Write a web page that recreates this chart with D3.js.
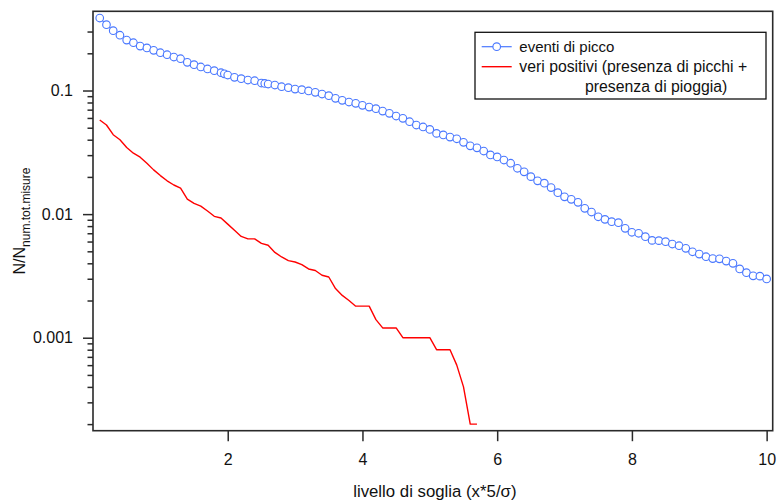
<!DOCTYPE html>
<html>
<head>
<meta charset="utf-8">
<script src="https://cdn.jsdelivr.net/npm/d3@7"></script>
<style>
  html, body { margin: 0; padding: 0; background: #fff; }
  svg { display: block; font-family: "Liberation Sans", Arial, Helvetica, sans-serif; }
</style>
</head>
<body>
<svg id="chart" width="779" height="504"></svg>
<script>
// ---------- DATA ----------
const xTicks = [2, 4, 6, 8, 10];
const yMajorTicks = [0.1, 0.01, 0.001];
const yTickLabels = ["0.1", "0.01", "0.001"];

const seriesNames = ["eventi di picco", "veri positivi (presenza di picchi +", "presenza di pioggia)"];

// eventi di picco (blue circles)
const blueX = [0.1,0.2,0.3,0.4,0.5,0.6,0.7,0.8,0.9,1.0,
  1.1,1.2,1.3,1.4,1.5,1.6,1.7,1.8,1.9,1.95,2.0,
  2.1,2.2,2.3,2.4,2.5,2.55,2.6,2.7,2.8,2.9,3.0,
  3.1,3.2,3.3,3.4,3.5,3.6,3.7,3.8,3.9,4.0,
  4.1,4.2,4.3,4.4,4.5,4.6,4.7,4.8,4.9,5.0,
  5.1,5.2,5.3,5.4,5.5,5.6,5.7,5.8,5.9,6.0,
  6.1,6.2,6.3,6.4,6.5,6.6,6.7,6.8,6.9,7.0,
  7.1,7.2,7.3,7.4,7.5,7.6,7.7,7.8,7.9,8.0,
  8.1,8.2,8.3,8.4,8.5,8.6,8.7,8.8,8.9,9.0,
  9.1,9.2,9.3,9.4,9.5,9.6,9.7,9.8,9.9,10.0];
const blueY = [0.386,0.341,0.305,0.280,0.256,0.2435,0.229,0.221,0.2114,0.2022,
  0.1948,0.1866,0.1808,0.1691,0.1617,0.1550,0.1493,0.1446,0.1393,0.1365,0.1335,
  0.1279,0.1246,0.1216,0.1200,0.1150,0.1140,0.1129,0.1108,0.1073,0.1054,0.1028,
  0.1015,0.0991,0.0967,0.0937,0.0908,0.0865,0.0833,0.0807,0.0788,0.0759,
  0.0735,0.0713,0.0682,0.0654,0.0622,0.0596,0.0559,0.0526,0.0507,0.0484,
  0.0450,0.0437,0.0420,0.0407,0.0381,0.0357,0.0344,0.0324,0.0301,0.0290,
  0.0274,0.0258,0.0235,0.0220,0.0201,0.0186,0.0178,0.0164,0.0149,0.0138,
  0.01318,0.01246,0.01114,0.0104,0.00952,0.00907,0.00868,0.00852,0.00768,0.00713,
  0.00700,0.00657,0.00613,0.00610,0.00598,0.00573,0.00555,0.00529,0.00496,0.00475,
  0.00452,0.00437,0.00435,0.00417,0.00400,0.00360,0.00336,0.00317,0.00315,0.00299];

// veri positivi (red line)
const redX = [0.1,0.2,0.3,0.4,0.5,0.6,0.7,0.8,0.9,1.0,
  1.1,1.2,1.3,1.4,1.5,1.6,1.7,1.8,1.9,2.0,
  2.1,2.2,2.3,2.4,2.5,2.6,2.7,2.8,2.9,3.0,
  3.1,3.2,3.3,3.4,3.5,3.6,3.7,3.8,3.9,4.0,
  4.1,4.2,4.3,4.4,4.5,4.6,4.7,4.8,4.9,5.0,
  5.1,5.2,5.3,5.4,5.5,5.6,5.7];
const redY = [0.0577,0.0526,0.0439,0.0400,0.0346,0.0311,0.0289,0.0258,0.0228,0.0205,
  0.0186,0.0172,0.0162,0.0132,0.0122,0.0116,0.0106,0.0096,0.0093,0.0083,
  0.0074,0.0066,0.0063,0.0063,0.0058,0.0056,0.0049,0.0045,0.0042,0.0041,
  0.0039,0.0036,0.0035,0.0032,0.0031,0.0025,0.0022,0.0020,0.0018,0.0018,
  0.0018,0.0014,0.0012,0.0012,0.0012,0.0010,0.0010,0.0010,0.0010,0.0010,
  0.0008,0.0008,0.0008,0.0006,0.0004,0.0002,0.0002];

// ---------- LAYOUT ----------
const svg = d3.select("#chart");
const L = 93, R = 772.7, T = 11.3, B = 430.7;
const blue = "#4a78ff", red = "#ff0000";

const x = d3.scaleLinear().domain([0, 10.09]).range([L, R]);
const y = d3.scaleLog().domain([1.769e-4, 0.4374]).range([B, T]);

// minor ticks (2..9 per decade), skipping those near the top edge as in the reference
const minorTicks = [];
[1e-4, 1e-3, 1e-2, 1e-1].forEach(d => {
  for (let k = 2; k <= 9; k++) {
    const v = +(k * d).toPrecision(3);
    if (v >= y.domain()[0] && v <= 0.35) minorTicks.push(v);
  }
});

const axisColor = "#2a2a2a";

// y minor ticks
const gyMinor = svg.append("g").attr("transform", `translate(${L},0)`)
  .call(d3.axisLeft(y).tickValues(minorTicks).tickSize(5.5).tickFormat(""));
gyMinor.select(".domain").remove();
gyMinor.selectAll("line").attr("stroke", axisColor).attr("stroke-width", 1.5);

// y major ticks
const gy = svg.append("g").attr("transform", `translate(${L},0)`)
  .call(d3.axisLeft(y).tickValues(yMajorTicks).tickSize(10).tickPadding(10)
    .tickFormat((d, i) => yTickLabels[i]));
gy.select(".domain").remove();
gy.selectAll("line").attr("stroke", axisColor).attr("stroke-width", 1.5);
gy.selectAll("text").attr("font-size", 16).attr("fill", "#111")
  .attr("font-family", "Liberation Sans, Arial, sans-serif");

// x ticks
const gx = svg.append("g").attr("transform", `translate(0,${B})`)
  .call(d3.axisBottom(x).tickValues(xTicks).tickSize(10.5).tickPadding(12).tickFormat(d3.format("d")));
gx.select(".domain").remove();
gx.selectAll("line").attr("stroke", axisColor).attr("stroke-width", 1.5);
gx.selectAll("text").attr("font-size", 16).attr("fill", "#111")
  .attr("font-family", "Liberation Sans, Arial, sans-serif");

// frame
svg.append("rect").attr("x", L).attr("y", T).attr("width", R - L).attr("height", B - T)
  .attr("fill", "none").attr("stroke", axisColor).attr("stroke-width", 1.6);

// ---------- SERIES ----------
const redData = redX.map((v, i) => [v, redY[i]]);
const blueData = blueX.map((v, i) => [v, blueY[i]]);

const line = d3.line().x(d => x(d[0])).y(d => y(d[1]));

svg.append("path").datum(redData).attr("d", line)
  .attr("fill", "none").attr("stroke", red).attr("stroke-width", 1.4)
  .attr("stroke-linejoin", "round");

svg.append("path").datum(blueData).attr("d", line)
  .attr("fill", "none").attr("stroke", blue).attr("stroke-width", 1.2);

svg.append("g").selectAll("circle").data(blueData).join("circle")
  .attr("cx", d => x(d[0])).attr("cy", d => y(d[1])).attr("r", 3.8)
  .attr("fill", "#fff").attr("stroke", blue).attr("stroke-width", 1.15);

// ---------- AXIS TITLES ----------
svg.append("text").attr("x", (L + R) / 2 + 2).attr("y", 497)
  .attr("text-anchor", "middle").attr("font-size", 16.8).attr("fill", "#111")
  .text("livello di soglia (x*5/σ)");

const yl = svg.append("text")
  .attr("transform", `translate(25,221) rotate(-90)`)
  .attr("text-anchor", "middle").attr("fill", "#111").attr("font-size", 16);
yl.append("tspan").text("N/N");
yl.append("tspan").attr("font-size", 12).attr("dy", 4.5).text("num.tot.misure");

// ---------- LEGEND ----------
const lg = svg.append("g");
lg.append("rect").attr("x", 475).attr("y", 32.3).attr("width", 291).attr("height", 66.7)
  .attr("fill", "#fff").attr("stroke", "#111").attr("stroke-width", 1.3);
lg.append("line").attr("x1", 481.7).attr("x2", 511.7).attr("y1", 46.7).attr("y2", 46.7)
  .attr("stroke", blue).attr("stroke-width", 1.2);
lg.append("circle").attr("cx", 496.7).attr("cy", 46.7).attr("r", 3.8)
  .attr("fill", "#fff").attr("stroke", blue).attr("stroke-width", 1.15);
lg.append("line").attr("x1", 481.7).attr("x2", 511.7).attr("y1", 66.7).attr("y2", 66.7)
  .attr("stroke", red).attr("stroke-width", 1.4);
lg.append("text").attr("x", 519.3).attr("y", 51.5).attr("font-size", 15).attr("fill", "#111").text(seriesNames[0]);
lg.append("text").attr("x", 519.3).attr("y", 71.5).attr("font-size", 15.8).attr("fill", "#111").text(seriesNames[1]);
lg.append("text").attr("x", 585).attr("y", 91.5).attr("font-size", 15.8).attr("fill", "#111").text(seriesNames[2]);
</script>
</body>
</html>
